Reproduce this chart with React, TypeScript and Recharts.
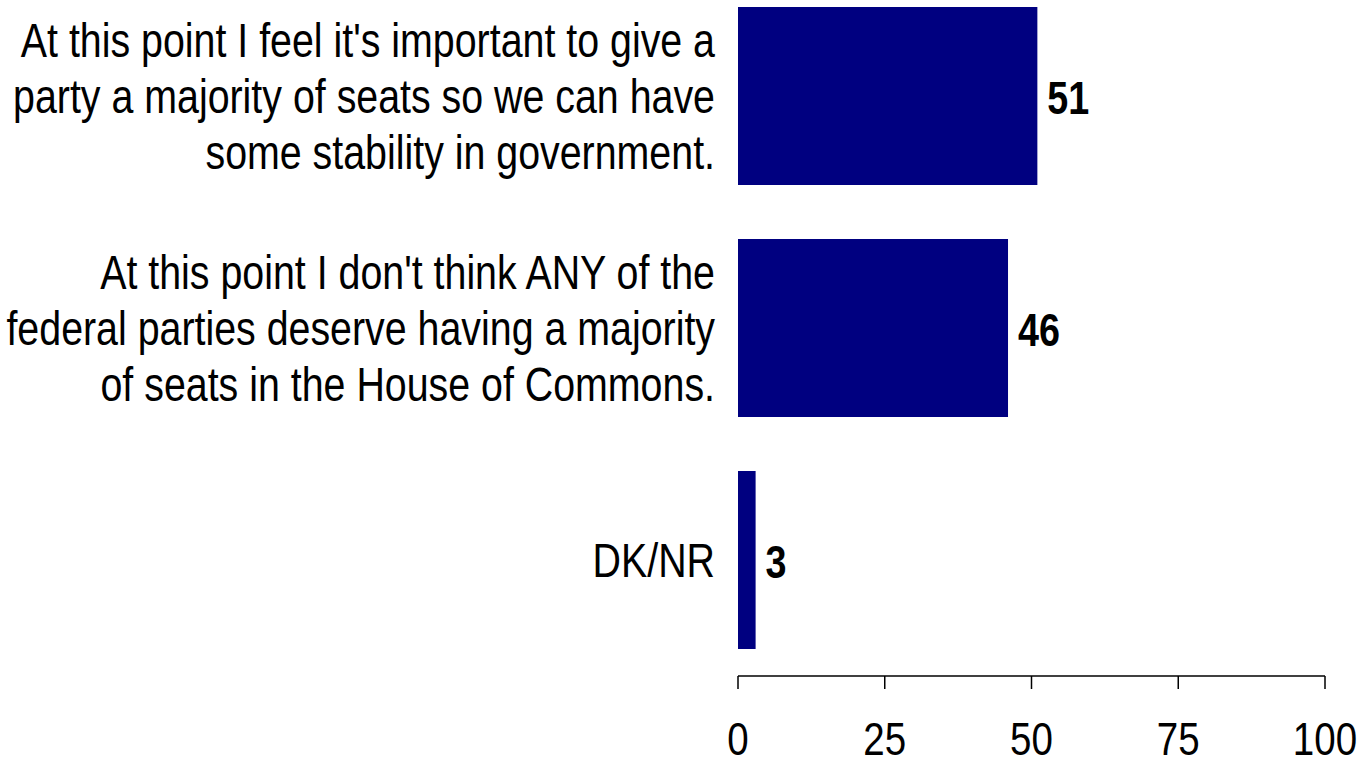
import React from 'react';
import { BarChart, Bar, XAxis, YAxis, LabelList } from 'recharts';

const categories = [
  "At this point I feel it's important to give a\nparty a majority of seats so we can have\nsome stability in government.",
  "At this point I don't think ANY of the\nfederal parties deserve having a majority\nof seats in the House of Commons.",
  'DK/NR',
];
const values = [51, 46, 3];
const xTicks = [0, 25, 50, 75, 100];

// no narrow font installed, so squeeze Liberation Sans horizontally
const FONT = "'Liberation Sans', Arial, sans-serif";
const SQUEEZE = 0.82;

const data = categories.map((name, i) => ({ name, value: values[i] }));

const NarrowText = ({ x, y, anchor, size, bold, children }: any) => (
  <text
    transform={`translate(${x},${y}) scale(${SQUEEZE},1)`}
    x={0}
    y={0}
    textAnchor={anchor}
    fontFamily={FONT}
    fontSize={size}
    fontWeight={bold ? 'bold' : 'normal'}
    fill="#000"
  >
    {children}
  </text>
);

const CategoryTick = (props: any) => {
  const { x, y, payload } = props;
  const lines = String(payload.value).split('\n');
  const lineHeight = 56;
  const start = y - ((lines.length - 1) * lineHeight) / 2;
  return (
    <g>
      {lines.map((l, i) => (
        <NarrowText key={i} x={x} y={start + i * lineHeight + 17} anchor="end" size={48}>
          {l}
        </NarrowText>
      ))}
    </g>
  );
};

const ValueTick = (props: any) => {
  const { x, y, payload } = props;
  return (
    <NarrowText x={x} y={y + 33} anchor="middle" size={47}>
      {payload.value}
    </NarrowText>
  );
};

const ValueLabel = (props: any) => {
  const { x, y, width, height, value } = props;
  return (
    <NarrowText x={x + width + 10} y={y + height / 2 + 18} anchor="start" size={46} bold>
      {value}
    </NarrowText>
  );
};

const App: React.FC = () => {
  return (
    <div style={{ position: 'absolute', left: 0, top: -20, background: '#fff' }}>
      <BarChart
        width={1361}
        height={780}
        data={data}
        layout="vertical"
        margin={{ top: 0, right: 36, bottom: 0, left: 0 }}
        barSize={178}
      >
        <XAxis
          type="number"
          domain={[0, 100]}
          ticks={xTicks}
          interval={0}
          height={84}
          tickSize={13}
          tickMargin={33}
          axisLine={{ stroke: '#000', strokeWidth: 1.5 }}
          tickLine={{ stroke: '#000', strokeWidth: 1.5 }}
          tick={<ValueTick />}
        />
        <YAxis
          type="category"
          dataKey="name"
          width={738}
          axisLine={false}
          tickLine={false}
          tickSize={0}
          tickMargin={23}
          tick={<CategoryTick />}
        />
        <Bar dataKey="value" fill="#000080" isAnimationActive={false}>
          <LabelList dataKey="value" content={<ValueLabel />} />
        </Bar>
      </BarChart>
    </div>
  );
};

export default App;
